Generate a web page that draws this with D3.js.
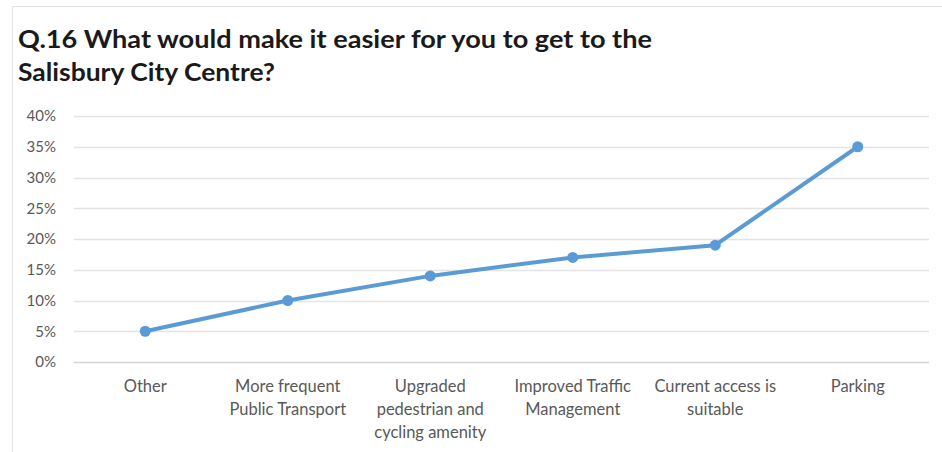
<!DOCTYPE html>
<html>
<head>
<meta charset="utf-8">
<script src="https://cdn.jsdelivr.net/npm/d3@7"></script>
<style>
  body { margin: 0; background: #fff; }
  svg { display: block; }
  text { font-family: Lato, "Open Sans", sans-serif; }
</style>
</head>
<body>
<svg width="942" height="452"></svg>
<script>
const width = 942;
const height = 452;
const margin = { top: 116, right: 13, bottom: 90, left: 74 };

// data
const categories = [
  ["Other"],
  ["More frequent", "Public Transport"],
  ["Upgraded", "pedestrian and", "cycling amenity"],
  ["Improved Traffic", "Management"],
  ["Current access is", "suitable"],
  ["Parking"]
];
const values = [0.05, 0.10, 0.14, 0.17, 0.19, 0.35];
const yTicks = [0, 0.05, 0.10, 0.15, 0.20, 0.25, 0.30, 0.35, 0.40];
const titleLines = ["Q.16 What would make it easier for you to get to the", "Salisbury City Centre?"];
const titleWidths = [634, 257];

const svg = d3.select("svg");

// outer frame
svg.append("rect")
  .attr("x", 12.5).attr("y", 6.5)
  .attr("width", 940).attr("height", 460)
  .attr("fill", "none")
  .attr("stroke", "#e3e3e3");

svg.append("g").selectAll("text")
  .data(titleLines)
  .join("text")
  .attr("x", 18)
  .attr("y", (d, i) => 48 + i * 33)
  .attr("font-size", 25)
  .attr("font-weight", "bold")
  .attr("fill", "#1a1a1a")
  .attr("textLength", (d, i) => titleWidths[i])
  .attr("lengthAdjust", "spacingAndGlyphs")
  .text(d => d);

const x = d3.scaleBand()
  .domain(d3.range(categories.length))
  .range([margin.left, width - margin.right]);

const y = d3.scaleLinear()
  .domain([0, 0.4])
  .range([362, margin.top]);

// gridlines
svg.append("g").selectAll("line")
  .data(yTicks)
  .join("line")
  .attr("x1", margin.left)
  .attr("x2", width - margin.right)
  .attr("y1", d => Math.round(y(d)) + 0.5)
  .attr("y2", d => Math.round(y(d)) + 0.5)
  .attr("stroke", d => d === 0 ? "#d4d4d4" : "#e4e4e4")
  .attr("stroke-width", 1.3);

const yAxis = svg.append("g")
  .attr("transform", `translate(${margin.left},0)`)
  .call(d3.axisLeft(y).tickValues(yTicks).tickFormat(d3.format(".0%")).tickSize(0).tickPadding(18));
yAxis.select(".domain").remove();
yAxis.selectAll("text")
  .attr("font-size", 15)
  .attr("fill", "#595959")
  .style("font-family", "Lato, sans-serif");

// category labels
const xl = svg.append("g").selectAll("text")
  .data(categories)
  .join("text")
  .attr("x", (d, i) => x(i) + x.bandwidth() / 2)
  .attr("y", 392)
  .attr("text-anchor", "middle")
  .attr("font-size", 16.5)
  .attr("fill", "#595959");
xl.selectAll("tspan")
  .data(d => d)
  .join("tspan")
  .attr("x", function () { return this.parentNode.getAttribute("x"); })
  .attr("dy", (d, i) => i === 0 ? 0 : 23)
  .text(d => d);

const line = d3.line()
  .x((d, i) => x(i) + x.bandwidth() / 2)
  .y(d => y(d));

svg.append("path")
  .datum(values)
  .attr("d", line)
  .attr("fill", "none")
  .attr("stroke", "#5b9bd5")
  .attr("stroke-width", 4)
  .attr("stroke-linejoin", "round");

svg.append("g").selectAll("circle")
  .data(values)
  .join("circle")
  .attr("cx", (d, i) => x(i) + x.bandwidth() / 2)
  .attr("cy", d => y(d))
  .attr("r", 5.5)
  .attr("fill", "#5b9bd5");
</script>
</body>
</html>
